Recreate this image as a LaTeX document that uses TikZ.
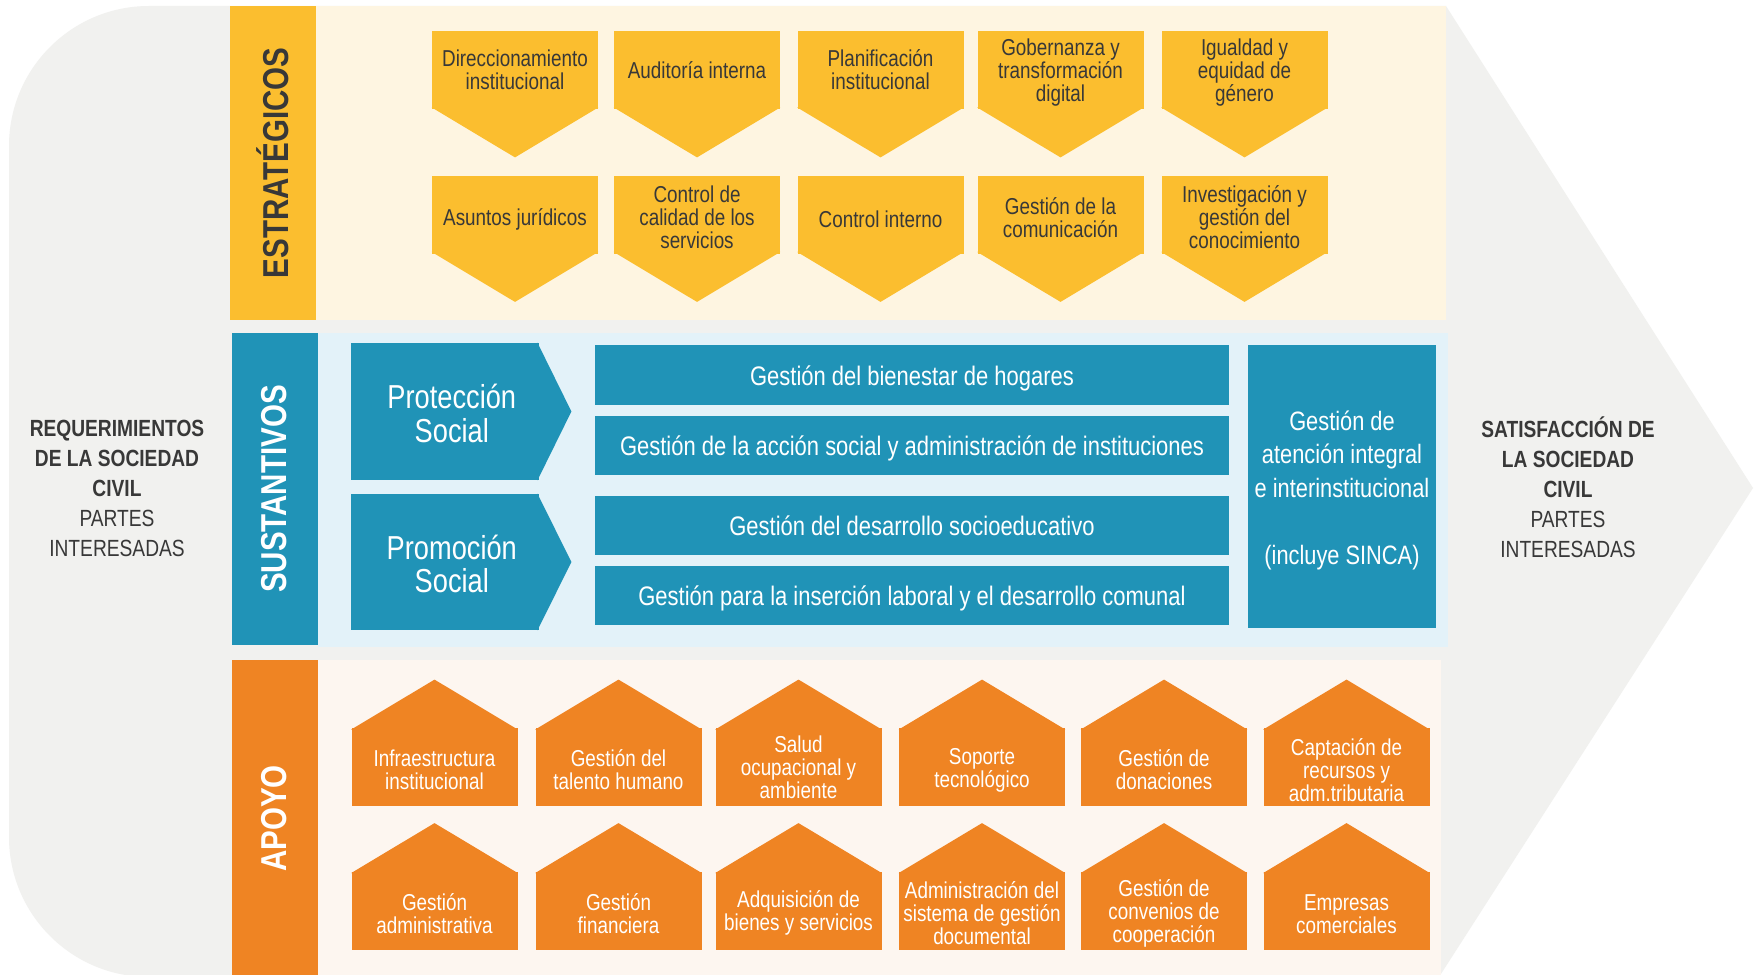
\documentclass[tikz,border=0pt]{standalone}
\usepackage{fontspec}
\setmainfont{Liberation Sans}[FakeStretch=0.82]

\definecolor{fondo}{HTML}{F1F1EF}
\definecolor{amarillo}{HTML}{FBBE2F}
\definecolor{crema}{HTML}{FEF5E1}
\definecolor{azul}{HTML}{2093B7}
\definecolor{celeste}{HTML}{E3F2F9}
\definecolor{naranja}{HTML}{EF8423}
\definecolor{durazno}{HTML}{FDF6F0}
\definecolor{texto}{HTML}{383838}

% first-line strut for the small boxes
\newcommand{\alto}{\rule{0pt}{11.2pt}}

\begin{document}
\begin{tikzpicture}[x=0.5pt,y=-0.5pt]
\useasboundingbox (0,0) rectangle (1760,974);
\clip (0,0) rectangle (1760,974);
\fill[white] (0,0) rectangle (1760,974);

% background arrow and panels
\fill[fondo] (1446,6) -- (1753,488) -- (1439,977) [rounded corners=70pt] -- (9,977) -- (9,6) [sharp corners] -- cycle;
\fill[crema] (316,6) rectangle (1446,320);
\fill[celeste] (318,333) rectangle (1448,647);
\fill[durazno] (318,660) rectangle (1441,977);

\begin{scope}[every node/.style={align=center,text=texto,
              font=\fontsize{11.7}{15}\selectfont}]

    \node (req) at (117,488)
        {\textbf{REQUERIMIENTOS}\\\textbf{DE LA SOCIEDAD}\\\textbf{CIVIL}\\PARTES\\INTERESADAS};
    \node (sat) at (1568,487)
        {\textbf{SATISFACCIÓN DE}\\\textbf{LA SOCIEDAD}\\\textbf{CIVIL}\\PARTES\\INTERESADAS};

\end{scope}

\begin{scope}[every node/.style={rotate=90,minimum height=43pt,inner sep=0pt,
              font=\fontsize{18}{18}\selectfont\bfseries}]

    \node[fill=amarillo,text=texto,minimum width=157pt] (estr) at (273,163) {ESTRATÉGICOS};
    \node[fill=azul,text=white,minimum width=156pt] (sust) at (274.5,489) {SUSTANTIVOS};
    \node[fill=naranja,text=white,minimum width=158.5pt] (apoyo) at (274.5,818.5) {APOYO};

\end{scope}

\begin{scope}[every node/.style={fill=amarillo,text=texto,minimum width=83pt,
              minimum height=39pt,inner sep=1pt,align=center,
              font=\fontsize{11.5}{11.5}\selectfont}]

    \node (dir) at (515,70) {Direccionamiento\\institucional};
    \node (aud) at (697,70) {Auditoría interna};
    \node (pla) at (880.5,70) {Planificación\\institucional};
    \node (gob) at (1060.5,70) {\alto Gobernanza y\\transformación\\digital};
    \node (igu) at (1244.5,70) {\alto Igualdad y\\equidad de\\género};

    \node[text height=13.4pt,text depth=2.4pt] (asu) at (515,214.5) {Asuntos jurídicos};
    \node (cal) at (697,214.5) {\alto Control de\\calidad de los\\servicios};
    \node[text height=13.4pt,text depth=0pt] (cin) at (880.5,214.5) {Control interno};
    \node (com) at (1060.5,214.5) {\alto Gestión de la\\comunicación};
    \node (inv) at (1244.5,214.5) {\alto Investigación y\\gestión del\\conocimiento};

    \fill[amarillo]
        ([yshift=1pt]dir.south west) -- ([yshift=-24pt]dir.south) -- ([yshift=1pt]dir.south east)
        ([yshift=1pt]aud.south west) -- ([yshift=-24pt]aud.south) -- ([yshift=1pt]aud.south east)
        ([yshift=1pt]pla.south west) -- ([yshift=-24pt]pla.south) -- ([yshift=1pt]pla.south east)
        ([yshift=1pt]gob.south west) -- ([yshift=-24pt]gob.south) -- ([yshift=1pt]gob.south east)
        ([yshift=1pt]igu.south west) -- ([yshift=-24pt]igu.south) -- ([yshift=1pt]igu.south east)
        ([yshift=1pt]asu.south west) -- ([yshift=-24pt]asu.south) -- ([yshift=1pt]asu.south east)
        ([yshift=1pt]cal.south west) -- ([yshift=-24pt]cal.south) -- ([yshift=1pt]cal.south east)
        ([yshift=1pt]cin.south west) -- ([yshift=-24pt]cin.south) -- ([yshift=1pt]cin.south east)
        ([yshift=1pt]com.south west) -- ([yshift=-24pt]com.south) -- ([yshift=1pt]com.south east)
        ([yshift=1pt]inv.south west) -- ([yshift=-24pt]inv.south) -- ([yshift=1pt]inv.south east);

\end{scope}

\begin{scope}[every node/.style={fill=azul,text=white,inner sep=0pt,align=center}]

    \node[minimum width=94pt,minimum height=68.5pt,font=\fontsize{16.6}{16.8}\selectfont]
        (prot) at (445,411.5) {\hspace*{6.8pt}\rule{0pt}{14.3pt}Protección\\\hspace*{6.8pt}Social};
    \node[minimum width=94pt,minimum height=68pt,font=\fontsize{16.6}{16.8}\selectfont]
        (prom) at (445,562) {\hspace*{6.8pt}\rule{0pt}{14.3pt}Promoción\\\hspace*{6.8pt}Social};

    \fill[azul]
        ([xshift=-1pt]prot.north east) -- ([xshift=16pt]prot.east) -- ([xshift=-1pt]prot.south east)
        ([xshift=-1pt]prom.north east) -- ([xshift=16pt]prom.east) -- ([xshift=-1pt]prom.south east);

    \node[minimum width=317pt,minimum height=30pt,text height=13.6pt,text depth=3.2pt,
          font=\fontsize{13.4}{15}\selectfont]
        (hog) at (912,375) {Gestión del bienestar de hogares};
    \node[minimum width=317pt,minimum height=29.5pt,text height=13.6pt,text depth=3.2pt,
          font=\fontsize{13.4}{15}\selectfont]
        (acc) at (912,445.5) {Gestión de la acción social y administración de instituciones};
    \node[minimum width=317pt,minimum height=29.5pt,text height=13.6pt,text depth=3.2pt,
          font=\fontsize{13.4}{15}\selectfont]
        (edu) at (912,525.5) {Gestión del desarrollo socioeducativo};
    \node[minimum width=317pt,minimum height=29.5pt,text height=13.6pt,text depth=3.2pt,
          font=\fontsize{13.4}{15}\selectfont]
        (lab) at (912,595.5) {Gestión para la inserción laboral y el desarrollo comunal};

    \node[minimum width=94pt,minimum height=141.5pt,font=\fontsize{13.3}{16.8}\selectfont]
        (sinca) at (1342,486.5) {\rule{0pt}{13.8pt}Gestión de\\atención integral\\e interinstitucional\\[16.8pt](incluye SINCA)};

\end{scope}

\begin{scope}[every node/.style={fill=naranja,text=white,minimum width=83pt,
              minimum height=39pt,inner sep=1pt,align=center,
              font=\fontsize{11.5}{11.5}\selectfont}]

    \node (inf) at (434.5,767) {\alto Infraestructura\\institucional};
    \node (tal) at (618.5,767) {\alto Gestión del\\talento humano};
    \node (sal) at (798.5,767) {Salud\\ocupacional y\\ambiente};
    \node (sop) at (982,767) {\alto Soporte\\tecnológico};
    \node (don) at (1164,767) {\alto Gestión de\\donaciones};
    \node (cap) at (1346.5,767) {\alto Captación de\\recursos y\\adm.tributaria};

    \node (adm) at (434.5,910.5) {\alto Gestión\\administrativa};
    \node (fin) at (618.5,910.5) {\alto Gestión\\financiera};
    \node (adq) at (798.5,910.5) {\alto Adquisición de\\bienes y servicios};
    \node (doc) at (982,910.5) {\alto Administración del\\sistema de gestión\\documental};
    \node (conv) at (1164,910.5) {\alto Gestión de\\convenios de\\cooperación};
    \node (emp) at (1346.5,910.5) {\alto Empresas\\comerciales};

    \fill[naranja]
        ([yshift=-1pt]inf.north west) -- ([yshift=24pt]inf.north) -- ([yshift=-1pt]inf.north east)
        ([yshift=-1pt]tal.north west) -- ([yshift=24pt]tal.north) -- ([yshift=-1pt]tal.north east)
        ([yshift=-1pt]sal.north west) -- ([yshift=24pt]sal.north) -- ([yshift=-1pt]sal.north east)
        ([yshift=-1pt]sop.north west) -- ([yshift=24pt]sop.north) -- ([yshift=-1pt]sop.north east)
        ([yshift=-1pt]don.north west) -- ([yshift=24pt]don.north) -- ([yshift=-1pt]don.north east)
        ([yshift=-1pt]cap.north west) -- ([yshift=24pt]cap.north) -- ([yshift=-1pt]cap.north east)
        ([yshift=-1pt]adm.north west) -- ([yshift=24pt]adm.north) -- ([yshift=-1pt]adm.north east)
        ([yshift=-1pt]fin.north west) -- ([yshift=24pt]fin.north) -- ([yshift=-1pt]fin.north east)
        ([yshift=-1pt]adq.north west) -- ([yshift=24pt]adq.north) -- ([yshift=-1pt]adq.north east)
        ([yshift=-1pt]doc.north west) -- ([yshift=24pt]doc.north) -- ([yshift=-1pt]doc.north east)
        ([yshift=-1pt]conv.north west) -- ([yshift=24pt]conv.north) -- ([yshift=-1pt]conv.north east)
        ([yshift=-1pt]emp.north west) -- ([yshift=24pt]emp.north) -- ([yshift=-1pt]emp.north east);

\end{scope}

\end{tikzpicture}
\end{document}
